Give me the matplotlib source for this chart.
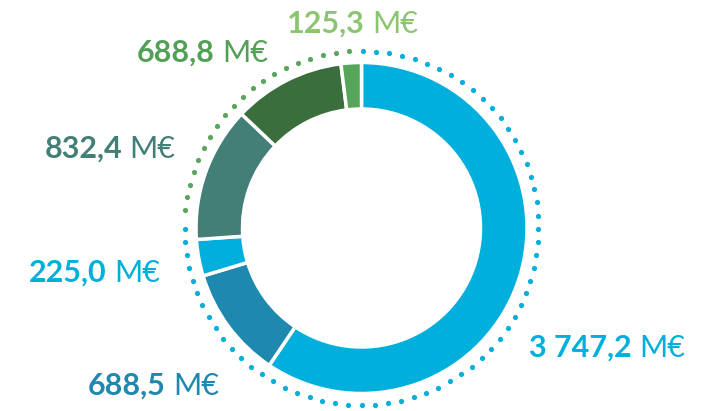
import numpy as np
import matplotlib
matplotlib.use("Agg")
import matplotlib.pyplot as plt

# Amounts in millions of euros, clockwise from the top
values = [3747.2, 688.5, 225.0, 832.4, 688.8, 125.3]
seg_colors = ["#00AFDC", "#1F88AF", "#00AFDC", "#437F77", "#3A6F3D", "#57A55B"]
label_colors = ["#00AFDC", "#1F88AF", "#00AFDC", "#437F77", "#52A055", "#8CC46F"]

# Label anchors: right end of the number, baseline (pixel coordinates, y up)
label_anchor = [(632, 54), (166, 16), (107, 129), (122, 253), (215, 349), (365, 378)]

W, H = 713, 411
fig = plt.figure(figsize=(W / 100, H / 100), dpi=100)
ax = fig.add_axes([0, 0, 1, 1])

cx, cy = 361.5, 183.0
r_out, r_in = 165.5, 119.0

ax.pie(values, radius=r_out, center=(cx, cy), startangle=90, counterclock=False,
       colors=seg_colors,
       wedgeprops=dict(width=r_out - r_in, edgecolor="white", linewidth=2.5))

# Dotted outer ring: blue arc for the first three slices, green for the rest
r_dot = 177.0
def dot_arc(a0, a1, n, color):
    ang = np.deg2rad(np.linspace(a0, a1, n))
    xs = cx + r_dot * np.sin(ang)
    ys = cy + r_dot * np.cos(ang)
    ax.scatter(xs, ys, s=14, color=color, linewidths=0, zorder=3)

dot_arc(0.5, 269.7, 64, "#00AFDC")
dot_arc(275.8, 355.8, 20, "#5AA65C")

def fmt(v):
    return f"{v:,.1f}".replace(",", " ").replace(".", ",")

for v, col, (x, y) in zip(values, label_colors, label_anchor):
    ax.text(x, y, fmt(v), ha="right", va="baseline", fontsize=22,
            fontfamily="Lato", fontweight="bold", color=col)
    ax.text(x + 7, y, "M€", ha="left", va="baseline", fontsize=22,
            fontfamily="Lato", fontweight="normal", color=col)

ax.set_xlim(0, W)
ax.set_ylim(0, H)
ax.set_aspect("equal")
ax.axis("off")
fig.savefig("out.png", dpi=100)
